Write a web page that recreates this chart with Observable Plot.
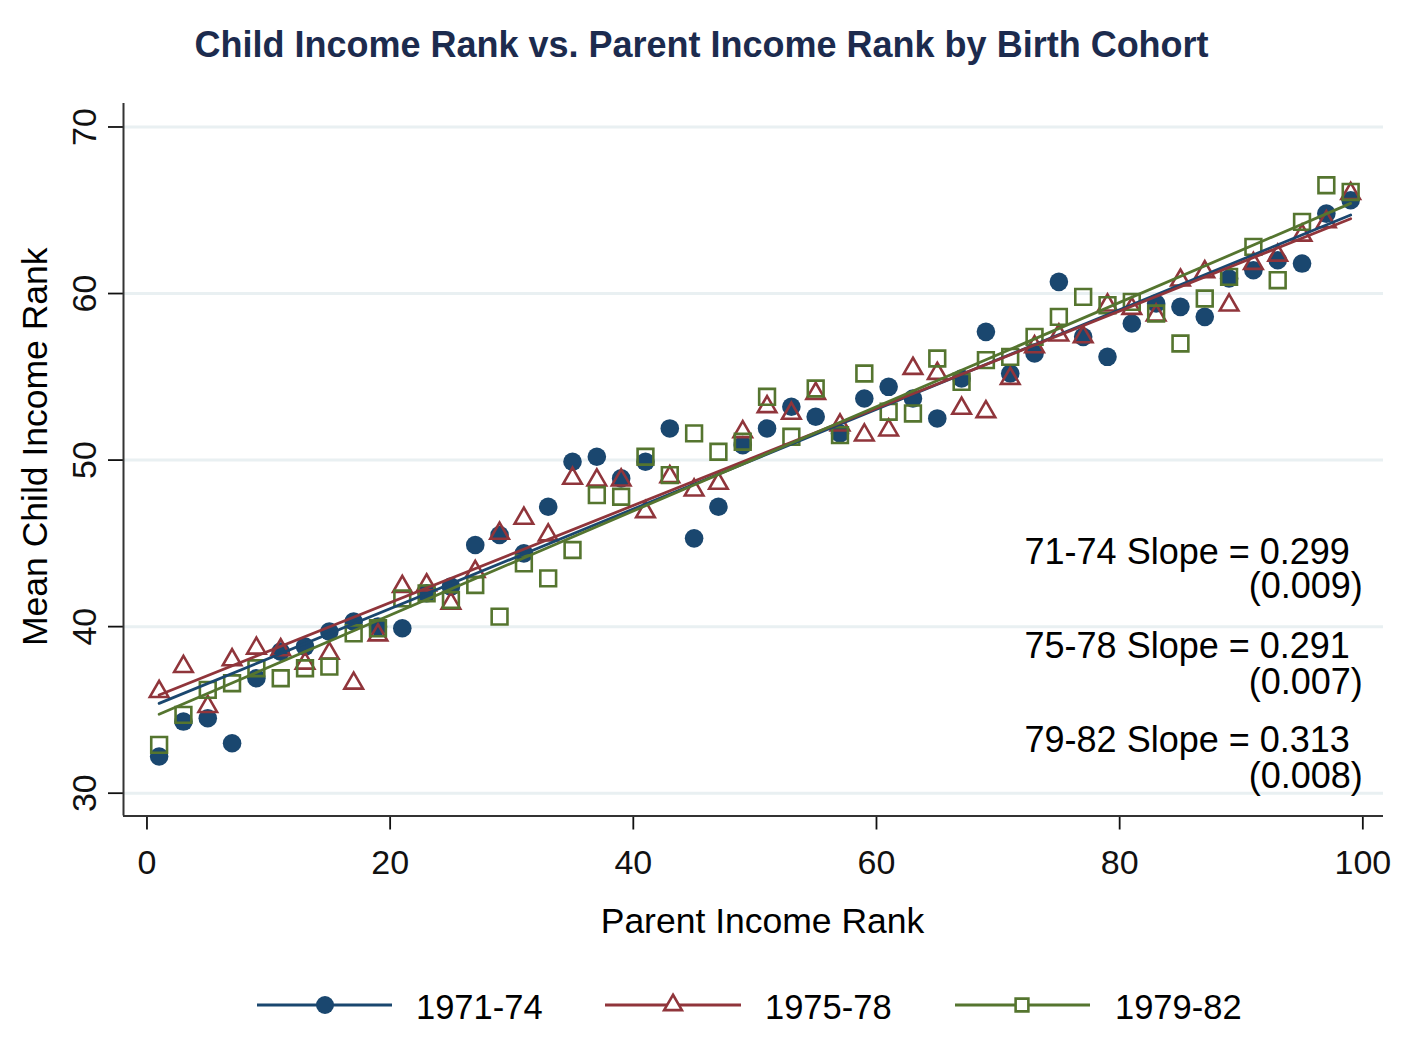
<!DOCTYPE html>
<html><head><meta charset="utf-8">
<script src="https://cdn.jsdelivr.net/npm/d3@7"></script>
<script src="https://cdn.jsdelivr.net/npm/@observablehq/plot@0.6"></script>
<style>
html,body{margin:0;padding:0;background:#fff;}
body{width:1409px;height:1038px;position:relative;overflow:hidden;font-family:"Liberation Sans",Arial,sans-serif;}
#title{position:absolute;left:0;top:0;}
#chart{position:absolute;left:0;top:80px;}
#legend{position:absolute;left:0;top:960px;}
</style></head><body>
<svg id="title" width="1409" height="80"></svg>
<div id="chart"></div>
<svg id="legend" width="1409" height="78"></svg>
<script>
const titleText = "Child Income Rank vs. Parent Income Rank by Birth Cohort";
const xLabel = "Parent Income Rank";
const yLabel = "Mean Child Income Rank";
const cohorts = ["1971-74", "1975-78", "1979-82"];
const xTicks = [0, 20, 40, 60, 80, 100];
const yTicks = [30, 40, 50, 60, 70];
const ranks = [1,3,5,7,9,11,13,15,17,19,21,23,25,27,29,31,33,35,37,39,41,43,45,47,49,
               51,53,55,57,59,61,63,65,67,69,71,73,75,77,79,81,83,85,87,89,91,93,95,97,99];
const cohort7174 = [32.2,34.3,34.5,33.0,36.9,38.5,38.8,39.7,40.3,40.0,39.9,42.0,42.4,44.9,45.5,44.4,47.2,49.9,50.2,48.9,
                    49.9,51.9,45.3,47.2,50.9,51.9,53.2,52.6,51.6,53.7,54.4,53.7,52.5,54.9,57.7,55.2,56.4,60.7,57.4,56.2,
                    58.2,59.4,59.2,58.6,60.9,61.4,62.0,61.8,64.8,65.6];
const cohort7578 = [36.1,37.6,35.2,38.0,38.7,38.6,37.8,38.4,36.6,39.5,42.4,42.5,41.4,43.3,45.6,46.5,45.5,48.9,48.8,48.8,
                    46.9,49.0,48.2,48.6,51.7,53.2,52.8,54.0,52.1,51.5,51.8,55.5,55.2,53.1,52.9,54.9,56.8,57.5,57.4,59.3,
                    59.1,58.7,60.8,61.3,59.3,61.8,62.3,63.5,64.3,66.0];
const cohort7982 = [32.9,34.7,36.2,36.6,37.5,36.9,37.5,37.6,39.6,39.9,41.7,42.0,41.6,42.5,40.6,43.8,42.9,44.6,47.9,47.8,
                    50.2,49.1,51.6,50.5,51.1,53.8,51.4,54.3,51.5,55.2,52.9,52.8,56.1,54.7,56.0,56.2,57.4,58.6,59.8,59.3,
                    59.5,58.8,57.0,59.7,61.0,62.8,60.8,64.3,66.5,66.1];
const slopeLabels = ["71-74 Slope = 0.299", "75-78 Slope = 0.291", "79-82 Slope = 0.313"];
const seLabels = ["(0.009)", "(0.007)", "(0.008)"];

const colors = ["#1a476f", "#90353b", "#55752f"];
const font = '"Liberation Sans", Arial, sans-serif';

const series = [cohort7174, cohort7578, cohort7982];
const rows = [];
cohorts.forEach((c, k) => ranks.forEach((r, i) => rows.push({cohort: c, rank: r, value: series[k][i]})));
const byCohort = c => rows.filter(d => d.cohort === c);

const xDomain = [-1.93, 101.7];
const yDomain = [28.63, 71.41];

const chart = Plot.plot({
  width: 1409, height: 880,
  marginTop: 23, marginLeft: 123, marginRight: 26, marginBottom: 144.5,
  x: {domain: xDomain},
  y: {domain: yDomain},
  color: {domain: cohorts, range: colors},
  style: {fontFamily: font, background: "white", color: "black"},
  marks: [
    Plot.gridY(yTicks, {stroke: "#e9f0f2", strokeOpacity: 1, strokeWidth: 3}),
    Plot.axisX(xTicks, {tickSize: 14, tickPadding: 20, fontSize: 34, label: null, strokeWidth: 1.8, color: "#111"}),
    Plot.axisY(yTicks, {tickSize: 15, tickPadding: 13, tickRotate: -90, fontSize: 34, label: null, strokeWidth: 1.8, color: "#111"}),
    Plot.ruleX([xDomain[0]], {stroke: "#333", strokeWidth: 2}),
    Plot.ruleY([yDomain[0]], {stroke: "#333", strokeWidth: 2}),
    Plot.text([xLabel], {text: d => d, frameAnchor: "bottom", dx: 9, dy: 117, textAnchor: "middle", lineAnchor: "bottom", fontSize: 35.5, fill: "black"}),
    Plot.text([yLabel], {text: d => d, frameAnchor: "left", rotate: -90, dx: -77, dy: -13, textAnchor: "middle", lineAnchor: "bottom", fontSize: 35.5, fill: "black"}),
    Plot.dot(byCohort(cohorts[0]), {x: "rank", y: "value", fill: "cohort", r: 9.3, symbol: "circle"}),
    Plot.dot(byCohort(cohorts[1]), {x: "rank", y: "value", stroke: "cohort", fill: "none", r: 6.9, symbol: "triangle", strokeWidth: 2.6}),
    Plot.dot(byCohort(cohorts[2]), {x: "rank", y: "value", stroke: "cohort", fill: "none", r: 8.9, symbol: "square", strokeWidth: 2.6}),
    Plot.linearRegressionY(rows, {x: "rank", y: "value", stroke: "cohort", ci: 0, strokeWidth: 2.8}),
    Plot.text(slopeLabels, {text: d => d, x: 100, y: [43.79, 38.09, 32.45], dx: -13, textAnchor: "end", lineAnchor: "bottom", fontSize: 36, fill: "black"}),
    Plot.text(seLabels, {text: d => d, x: 100, y: [41.69, 35.93, 30.29], textAnchor: "end", lineAnchor: "bottom", fontSize: 36, fill: "black"})
  ]
});
document.getElementById("chart").appendChild(chart);

// Title
d3.select("#title").append("text")
  .attr("x", 701.5).attr("y", 57).attr("text-anchor", "middle")
  .attr("font-family", font).attr("font-size", 36).attr("font-weight", "bold")
  .attr("fill", "#1c2b4e").text(titleText);

// Legend
const leg = d3.select("#legend");
const items = [
  {x0: 257, x1: 392, mx: 325, tx: 416, sym: d3.symbolCircle, r: 9, filled: true},
  {x0: 605, x1: 741, mx: 673, tx: 765, sym: d3.symbolTriangle, r: 6.6, filled: false},
  {x0: 955, x1: 1090, mx: 1022, tx: 1115, sym: d3.symbolSquare, r: 7.2, filled: false}
];
items.forEach((it, k) => {
  leg.append("line").attr("x1", it.x0).attr("x2", it.x1).attr("y1", 45).attr("y2", 45)
    .attr("stroke", colors[k]).attr("stroke-width", 3);
  const p = d3.symbol(it.sym, Math.PI * it.r * it.r)();
  leg.append("path").attr("d", p).attr("transform", `translate(${it.mx},45)`)
    .attr("fill", it.filled ? colors[k] : "white").attr("stroke", colors[k]).attr("stroke-width", it.filled ? 0 : 2.6);
  leg.append("text").attr("x", it.tx).attr("y", 59).attr("font-family", font).attr("font-size", 34.5)
    .attr("fill", "black").text(cohorts[k]);
});
</script>
</body></html>
